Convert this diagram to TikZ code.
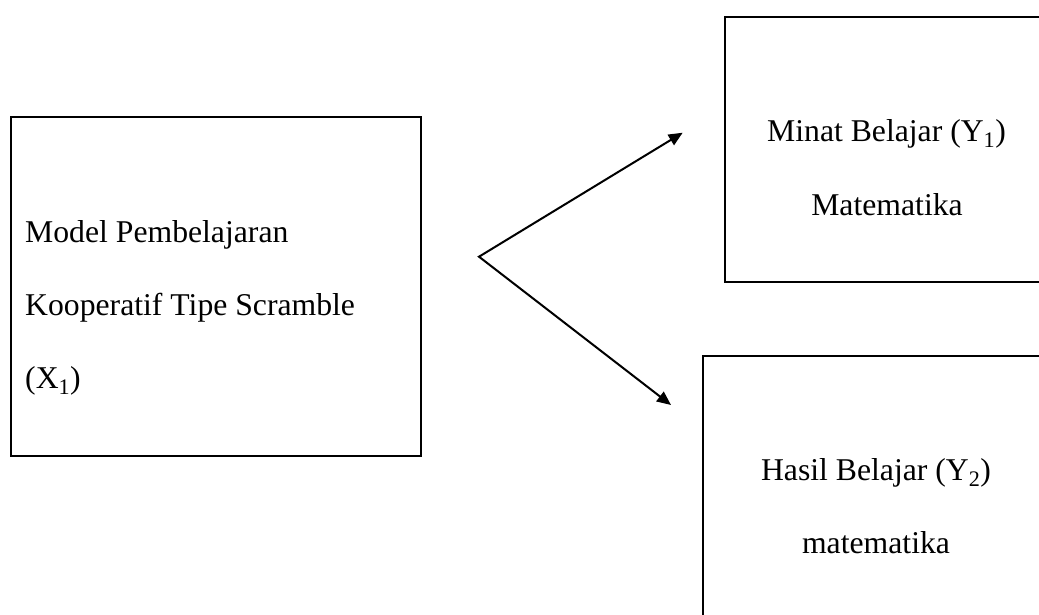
\documentclass[tikz,border=0pt]{standalone}
\usepackage{fontspec}
\setmainfont{Liberation Serif}
\usetikzlibrary{arrows.meta}
\begin{document}
\begin{tikzpicture}[x=1pt,y=-1pt,
  box/.style={draw, line width=2pt, inner sep=0pt, outer sep=0pt, anchor=north west},
  lbl/.style={inner sep=0pt, font=\fontsize{31.7}{38}\selectfont},
  conn/.style={line width=2pt, line join=miter,
    {Triangle[length=14pt,width=12pt]}-{Triangle[length=14pt,width=12pt]}}]
\useasboundingbox (0,0) rectangle (1039,615);
\clip (0,0) rectangle (1039,615);
% boxes
\node[box, minimum width=410pt, minimum height=339.3pt] (bx) at (11,116.7) {};
\node[box, minimum width=323pt, minimum height=265pt] (by1) at (725,16.7) {};
\node[box, minimum width=346pt, minimum height=300pt] (by2) at (702.7,356) {};
% texts
\node[lbl, anchor=base west] (x1) at (25,242) {Model Pembelajaran};
\node[lbl, anchor=base west] (x2) at (25,315) {Kooperatif Tipe Scramble};
\node[lbl, anchor=base west] (x3) at (25,388) {(X\textsubscript{1})};
\node[lbl, anchor=base] (y1a) at (886.5,141.7) {Minat Belajar (Y\textsubscript{1})};
\node[lbl, anchor=base] (y1b) at (887,215) {Matematika};
\node[lbl, anchor=base] (y2a) at (876,480.7) {Hasil Belajar (Y\textsubscript{2})};
\node[lbl, anchor=base] (y2b) at (876,553.7) {matematika};
% connectors
\coordinate (v) at (479,256.7);
\coordinate (t1) at (682.7,132.7);
\coordinate (t2) at (671,405);
\draw[conn] (t1) -- (v) -- (t2);
\end{tikzpicture}
\end{document}
